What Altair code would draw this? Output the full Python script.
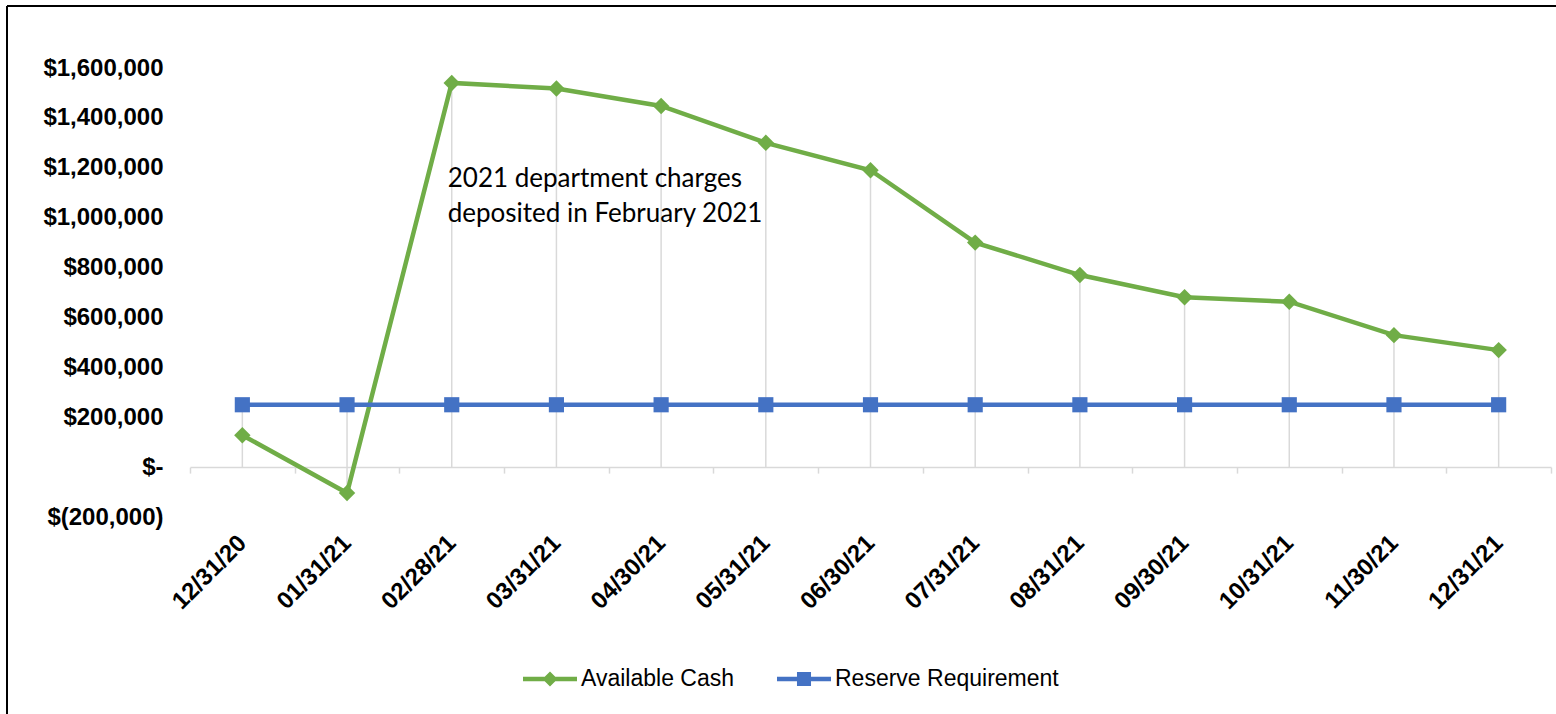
import altair as alt
import pandas as pd

# ---------------- data ----------------
dates = ["12/31/20", "01/31/21", "02/28/21", "03/31/21", "04/30/21", "05/31/21",
         "06/30/21", "07/31/21", "08/31/21", "09/30/21", "10/31/21", "11/30/21", "12/31/21"]
available_cash = [128000, -104000, 1540000, 1518000, 1448000, 1300000,
                  1190000, 900000, 770000, 681000, 663000, 529000, 469000]
reserve_requirement = [250000, 250000, 250000, 250000, 250000, 250000,
                       250000, 250000, 250000, 250000, 250000, 250000, 250000]
series_names = ["Available Cash", "Reserve Requirement"]
series_colors = ["#70AD47", "#4472C4"]
y_ticks = [-200000, 0, 200000, 400000, 600000, 800000, 1000000, 1200000, 1400000, 1600000]
annotation_lines = ["2021 department charges", "deposited in February 2021"]
annotation_at = "02/28/21"
annotation_y = 1122000

# ---------------- tables ----------------
long_df = pd.DataFrame({
    "date": dates * 2,
    "series": [series_names[0]] * len(dates) + [series_names[1]] * len(dates),
    "value": available_cash + reserve_requirement,
})
drop_df = pd.DataFrame({
    "date": dates,
    "top": [max(c, r) for c, r in zip(available_cash, reserve_requirement)],
    "bottom": [min(c, 0) for c in available_cash],
})
legend_df = pd.DataFrame({"date": [dates[0], dates[0]], "series": series_names, "value": [None, None]})
note_df = pd.DataFrame({"date": [annotation_at], "y": [annotation_y], "text": [annotation_lines]})
frame_df = pd.DataFrame({"k": [0]})

# ---------------- layout ----------------
W, H = 1361, 449
y_min, y_max = -200000, 1600000
zero_offset = H * (0 - y_min) / (y_max - y_min)

x_scale = alt.Scale(type="band", domain=dates, paddingInner=0, paddingOuter=0)
y_scale = alt.Scale(domain=[y_min, y_max], nice=False, zero=False)
color_scale = alt.Scale(domain=series_names, range=series_colors)

x_axis = alt.Axis(
    title=None, labelAngle=-45, labelAlign="right", labelBaseline="middle",
    labelFont="Liberation Sans", labelFontWeight="bold", labelFontSize=24, labelColor="black",
    labelPadding=66, tickBand="extent", tickSize=6, tickColor="#d9d9d9", tickWidth=1.5,
    domainColor="#d9d9d9", domainWidth=1.5, offset=-zero_offset, grid=False, labelOverlap=False,
    labelLimit=0,
)
y_axis = alt.Axis(
    title=None, values=y_ticks, domain=False, ticks=False, grid=False,
    labelFont="Liberation Sans", labelFontWeight="bold", labelFontSize=24, labelColor="black",
    labelPadding=27, labelLimit=0,
    labelExpr="datum.value == 0 ? '$-' : (datum.value < 0 ? '$(' + format(-datum.value, ',') + ')' : '$' + format(datum.value, ','))",
)

diamond_sym = "M-1,-0.08H1V0.08H-1Z M0,-0.28L0.28,0L0,0.28L-0.28,0Z"
square_sym = "M-1,-0.08H1V0.08H-1Z M-0.26,-0.26H0.26V0.26H-0.26Z"
legend = alt.Legend(
    title=None, orient="none", legendX=333, legendY=584, direction="horizontal",
    symbolSize=2916, symbolStrokeWidth=0, symbolOpacity=1,
    labelFont="Liberation Sans", labelFontSize=23, labelColor="black",
    labelOffset=4, columnPadding=42, labelLimit=0,
)

X = alt.X("date:N", scale=x_scale, sort=dates, axis=x_axis, bandPosition=0.5)
Yv = alt.Y("value:Q", scale=y_scale, axis=y_axis)
C = alt.Color("series:N", scale=color_scale, legend=legend)

drops = alt.Chart(drop_df).mark_rule(color="#d9d9d9", strokeWidth=1.5).encode(
    x=X, y=alt.Y("top:Q", scale=y_scale, axis=y_axis), y2="bottom:Q",
)

lines = alt.Chart(long_df).mark_line(strokeWidth=4.5).encode(x=X, y=Yv, color=C)

pts_cash = alt.Chart(long_df).transform_filter(
    alt.datum.series == series_names[0]
).mark_point(shape="diamond", filled=True, size=270, opacity=1).encode(x=X, y=Yv, color=C)
pts_res = alt.Chart(long_df).transform_filter(
    alt.datum.series == series_names[1]
).mark_point(shape="square", filled=True, size=230, opacity=1).encode(x=X, y=Yv, color=C)

legend_layer = alt.Chart(legend_df).mark_point(filled=True, opacity=1).encode(
    x=X, y=Yv, color=C,
    shape=alt.Shape("series:N", scale=alt.Scale(domain=series_names, range=[diamond_sym, square_sym]), legend=legend),
)

note = alt.Chart(note_df).mark_text(
    align="left", baseline="alphabetic", font="Lato", fontSize=26, lineHeight=35, dx=-4, color="black",
).encode(x=X, y=alt.Y("y:Q", scale=y_scale, axis=y_axis), text="text")

frame_top = alt.Chart(frame_df).mark_rule(color="black", strokeWidth=2).encode(
    x=alt.value(-183), x2=alt.value(1380), y=alt.value(-62))
frame_left = alt.Chart(frame_df).mark_rule(color="black", strokeWidth=2).encode(
    x=alt.value(-183), y=alt.value(-62), y2=alt.value(700))

chart = alt.layer(
    drops, lines, pts_cash, pts_res, legend_layer, note, frame_top, frame_left
).properties(
    width=W, height=H,
    autosize=alt.AutoSizeParams(type="none"),
    padding={"left": 190, "top": 68, "right": 5, "bottom": 197},
    background="white",
).configure_view(stroke=None)

chart.save("out.html", embed_options={"renderer": "svg", "actions": False})
